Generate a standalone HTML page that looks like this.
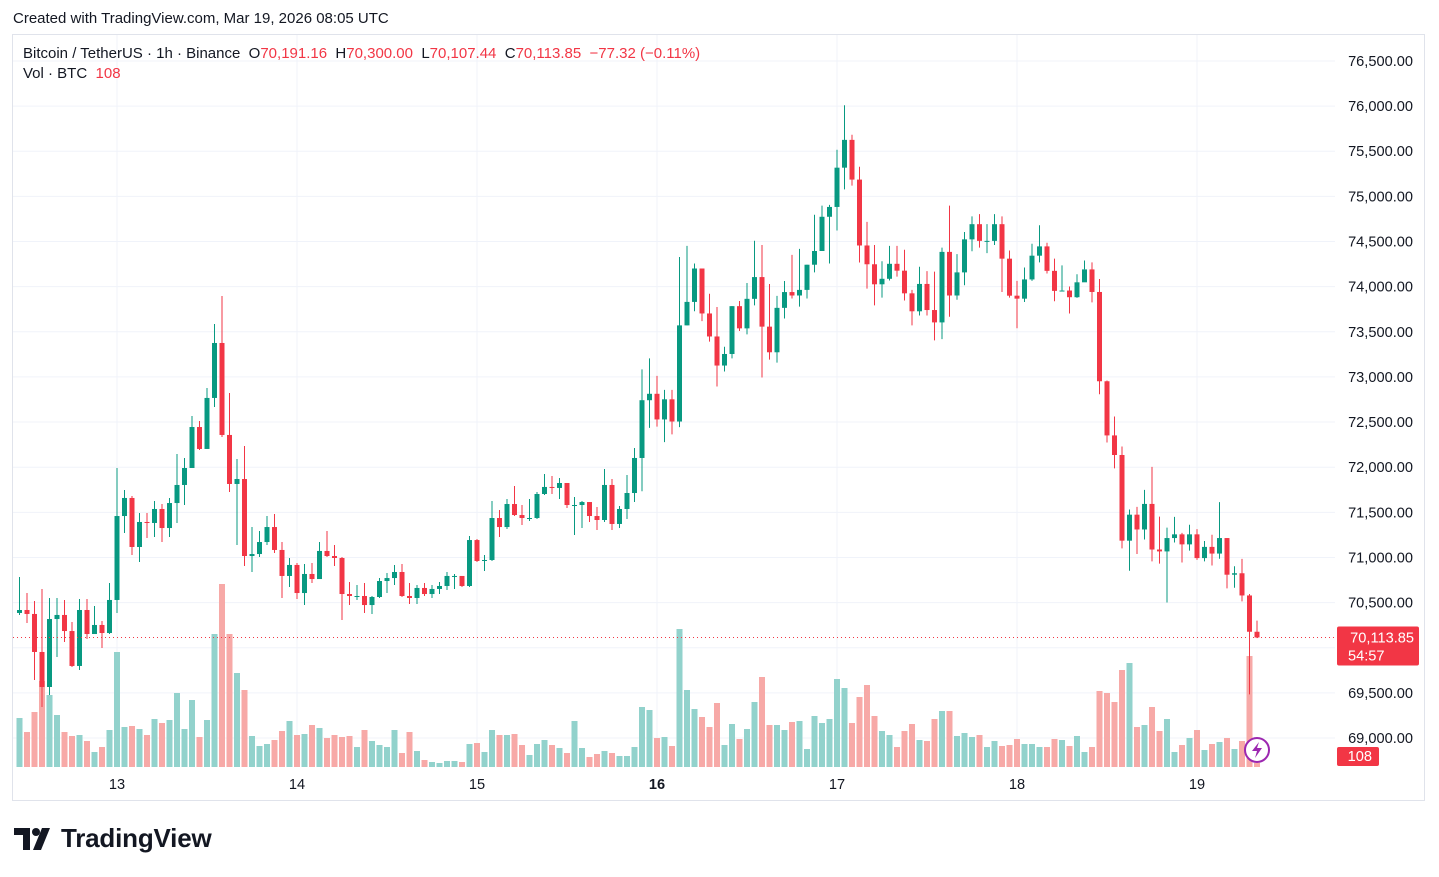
<!DOCTYPE html>
<html><head><meta charset="utf-8">
<style>
html,body{margin:0;padding:0;background:#fff;width:1439px;height:877px;overflow:hidden;font-family:"Liberation Sans",sans-serif;color:#131722}
#hdr{position:absolute;left:13px;top:10px;font-size:15px}
#frame{position:absolute;left:12px;top:34px;width:1413px;height:767px;border:1px solid #e0e3eb;box-sizing:border-box}
#legend{position:absolute;left:23px;top:44px;font-size:15px;line-height:20px}
.r{color:#f23645}
#logo{position:absolute;left:14px;top:823px;font-size:26px;font-weight:bold;letter-spacing:-0.2px;display:flex;align-items:center}
</style></head><body>
<div id="hdr">Created with TradingView.com, Mar 19, 2026 08:05 UTC</div>
<div id="frame"></div>
<svg id="chart" width="1439" height="877" style="position:absolute;left:0;top:0"></svg>
<div id="legend">
<div>Bitcoin / TetherUS · 1h · Binance &nbsp;O<span class="r">70,191.16</span> &nbsp;H<span class="r">70,300.00</span> &nbsp;L<span class="r">70,107.44</span> &nbsp;C<span class="r">70,113.85</span> &nbsp;<span class="r">−77.32 (−0.11%)</span></div>
<div>Vol · BTC &nbsp;<span class="r">108</span></div>
</div>
<div id="logo"><svg width="40" height="22" viewBox="0 0 40 22" style="margin-right:7px"><path d="M0 0h16v22h-7V7H0z" fill="#131722"/><circle cx="22" cy="4" r="4" fill="#131722"/><path d="M28 0h8l-9 22h-8z" fill="#131722"/></svg>TradingView</div>
<script>
const closes=[70418,70374,69953,69565,70318,70363,70185,69798,70418,70152,70252,70163,70529,71459,71659,71116,71393,71382,71537,71326,71603,71803,71991,72445,72202,72767,73376,72357,71814,71869,71016,71038,71171,71337,71083,70795,70917,70606,70817,70761,71072,71016,70994,70595,70573,70573,70473,70562,70739,70772,70839,70573,70551,70662,70595,70651,70684,70795,70795,70684,71193,70961,70972,71437,71337,71592,71470,71437,71437,71703,71781,71770,71825,71581,71581,71614,71459,71415,71803,71371,71537,71714,72102,72742,72813,72529,72752,72506,73571,73831,74201,73703,73448,73126,73254,73784,73538,73865,74106,73557,73273,73765,73940,73902,73964,74243,74395,74774,74883,75318,75626,75186,74456,74248,74026,74087,74253,74177,73926,73727,74030,73741,73604,74385,73902,74158,74524,74692,74507,74507,74692,74310,73900,73867,74080,74343,74446,74175,73953,73957,73883,74048,74191,73941,72952,72352,72135,71186,71474,71310,71593,71088,71067,71215,71256,71145,71256,70993,71117,71043,71215,70809,70825,70579,70177,70114];
const highs=[70784,70606,70518,70651,70551,70551,70529,70285,70540,70540,70462,70296,70717,71991,71747,71681,71493,71493,71625,71592,71659,72146,72102,72567,72512,72877,73586,73896,72822,72091,72235,71337,71293,71459,71481,71171,70994,70939,70928,70939,71171,71293,71138,71005,70728,70695,70717,70573,70772,70828,70917,70928,70717,70695,70717,70695,70728,70839,70817,70795,71238,71204,71027,71625,71526,71648,71792,71581,71648,71725,71925,71902,71880,71825,71670,71625,71614,71559,71980,71869,71570,71913,72213,73083,73206,73012,72856,72856,74329,74452,74257,74201,73921,73775,73334,73784,73841,74040,74508,74461,74030,73898,74063,74352,74418,74243,74797,74897,74906,75517,76009,75683,75328,74717,74461,74281,74452,74452,74409,73964,74220,74172,74167,74433,74897,74360,74606,74778,74803,74692,74803,74778,74401,74064,74212,74475,74680,74487,74310,74236,74002,74138,74290,74269,74085,72960,72562,72229,71531,71560,71749,72003,71453,71330,71449,71273,71363,71314,71183,71252,71613,71215,70903,70985,70595,70300];
const lows=[70363,70274,69643,69343,69476,69897,70063,69787,69753,70097,70152,69997,70152,70385,71271,71027,70950,71216,71227,71171,71227,71382,71581,71991,72190,72202,72667,72335,71725,71138,70905,70839,71005,71138,71050,70551,70673,70540,70473,70717,70761,71005,70905,70307,70473,70529,70385,70374,70551,70606,70695,70562,70484,70484,70573,70551,70595,70640,70651,70673,70673,70950,70850,70961,71227,71315,71459,71360,71404,71426,71692,71703,71648,71548,71249,71326,71393,71304,71393,71304,71326,71426,71614,71734,72435,72449,72278,72363,72444,73571,73727,73618,73391,72894,73060,73206,73509,73472,73793,72993,73192,73159,73647,73869,73779,73869,74158,74395,74257,74622,75077,75119,74267,73978,73793,73879,74068,74111,73846,73571,73680,73680,73405,73419,73666,73855,74015,74392,74433,74372,74462,73941,73879,73539,73830,74064,74269,74146,73838,73957,73703,73875,74191,73826,72808,72274,71987,71100,70853,71038,71199,70957,70932,70501,71166,70944,71076,70973,70957,70911,70986,70657,70665,70513,69483,70107];
const volumes=[1323,945,1485,2322,1944,1404,945,837,864,702,405,540,999,3105,1080,1107,1026,864,1296,1188,1269,1998,1026,1809,810,1269,3591,4941,3591,2538,2079,837,567,621,729,972,1242,864,891,1134,1053,783,864,810,837,540,999,702,594,540,999,378,945,432,189,135,108,162,162,135,621,648,405,999,864,864,891,594,324,621,729,594,513,378,1242,513,270,351,432,378,297,297,540,1620,1539,783,810,567,3726,2079,1566,1350,1080,1728,594,1161,756,1026,1755,2430,1134,1134,999,1215,1242,486,1377,1188,1296,2376,2133,1188,1890,2214,1377,972,864,540,972,1161,729,702,1296,1512,1512,837,918,810,864,540,702,567,594,756,621,621,540,540,756,729,567,837,405,540,2052,1998,1755,2619,2808,1080,1134,1620,972,1296,405,594,783,999,459,621,675,783,486,702,2997,108];
const firstOpen=70385;
const priceTicks=[69000,69500,70000,70500,71000,71500,72000,72500,73000,73500,74000,74500,75000,75500,76000,76500];
const dayLabels=["13","14","15","16","17","18","19"];
const dayStartIndex=[13,37,61,85,109,133,157];
const boldDay=["16"];
const lastPrice=70113.85;

const NS="http://www.w3.org/2000/svg";
const svg=document.getElementById('chart');
function mk(t,a,parent){const e=document.createElementNS(NS,t);for(const k in a)e.setAttribute(k,a[k]);(parent||svg).appendChild(e);return e;}
const X=i=>19.5+7.5*i;
const Y=p=>738-(p-69000)*0.09027;
const VH=v=>v/27;
const PL=13,PR=1335,PT=35,PB=767;
const gridG=mk('g',{});


priceTicks.forEach(p=>{
  const y=Y(p);
  const l=mk('line',{x1:PL,x2:PR,y1:y,y2:y,stroke:'#f0f3fa','stroke-width':1},gridG);
  
  
  const t=mk('text',{x:1413,y:y+5,'text-anchor':'end','font-size':14.6,fill:'#131722','font-family':'Liberation Sans, sans-serif'});
  t.textContent=p.toLocaleString('en-US',{minimumFractionDigits:2});
  
  
});
dayLabels.forEach((d,k)=>{
  const x=X(dayStartIndex[k]);
  const l=mk('line',{x1:x,x2:x,y1:PT,y2:PB,stroke:'#f0f3fa','stroke-width':1},gridG);
  
  
  const t=mk('text',{x:x,y:789,'text-anchor':'middle','font-size':14.6,fill:'#131722','font-weight':boldDay.includes(d)?'bold':'normal','font-family':'Liberation Sans, sans-serif'});
  t.textContent=d;
  
  
});
const volG=mk('g',{});


closes.forEach((c,i)=>{
  const o=i===0?firstOpen:closes[i-1];
  const up=c>=o;
  const h=VH(volumes[i]);
  const r=mk('rect',{x:X(i)-3,y:PB-h,width:6,height:h,fill:up?'#92d2cc':'#f7a9a7'},volG);
  
  
});
const cG=mk('g',{});


closes.forEach((c,i)=>{
  const o=i===0?firstOpen:closes[i-1];
  const up=c>=o;
  const col=up?'#089981':'#f23645';
  const x=X(i);
  const w=mk('line',{x1:x,x2:x,y1:Y(highs[i]),y2:Y(lows[i]),stroke:col,'stroke-width':1},cG);
  
  
  const yt=Y(Math.max(o,c)),yb=Y(Math.min(o,c));
  const b=mk('rect',{x:x-2.5,y:yt,width:5,height:Math.max(1,yb-yt),fill:col},cG);
  
  
});
const ly=Y(lastPrice);
const pl=mk('line',{x1:PL,x2:PR,y1:ly,y2:ly,stroke:'#f23645','stroke-width':1,'stroke-dasharray':'1 3'});


const pb=mk('rect',{x:1337,y:ly-11,width:82,height:39,rx:2,fill:'#f23645'});


const pt=mk('text',{x:1414,y:ly+5,'text-anchor':'end','font-size':14.6,fill:'#fff','font-family':'Liberation Sans, sans-serif'});
pt.textContent=lastPrice.toLocaleString('en-US',{minimumFractionDigits:2});
const ct=mk('text',{x:1348,y:ly+23,'font-size':14.6,fill:'#fff','font-family':'Liberation Sans, sans-serif'});
ct.textContent='54:57';


const vb=mk('rect',{x:1337,y:747,width:42,height:19,rx:2,fill:'#f23645'});


const vt=mk('text',{x:1372,y:761,'text-anchor':'end','font-size':14.6,fill:'#fff','font-family':'Liberation Sans, sans-serif'});
vt.textContent=String(volumes[volumes.length-1]);
const li=mk('g',{});


mk('circle',{cx:1257,cy:750,r:12,fill:'#fff',stroke:'#9c27b0','stroke-width':2},li);
mk('path',{d:'M1259 742 L1252 751 L1257 751 L1255 758 L1262 748 L1257 748 Z',fill:'#9c27b0'},li);
</script>
</body></html>
